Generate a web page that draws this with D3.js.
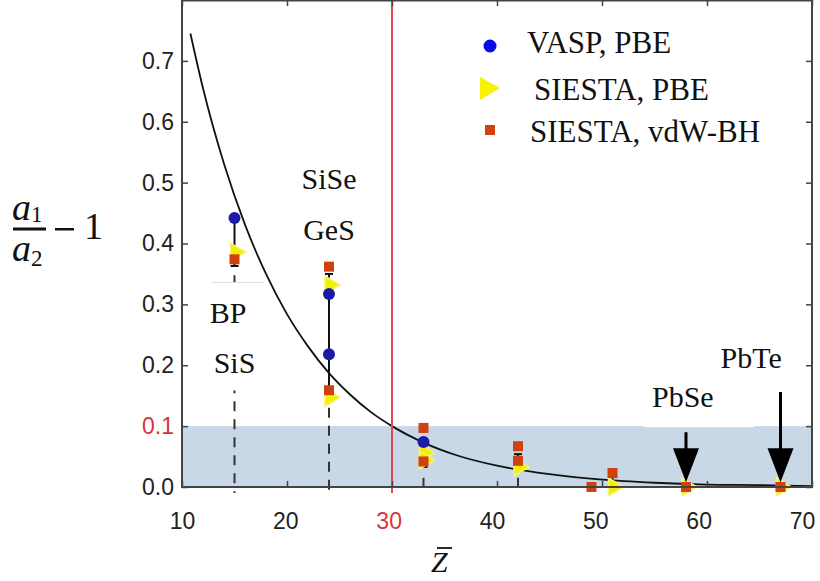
<!DOCTYPE html>
<html>
<head>
<meta charset="utf-8">
<script src="https://cdn.jsdelivr.net/npm/d3@7"></script>
<style>
  body { margin: 0; background: #fff; }
  svg { display: block; }
</style>
</head>
<body>
<div id="chart"></div>
<script>
// values
var vaspZ = [15, 24, 24, 33];
var vaspV = [0.442, 0.317, 0.218, 0.074];

var pbeZ = [15, 24, 24, 33, 33, 42, 51, 58, 67];
var pbeV = [0.386, 0.332, 0.147, 0.056, 0.044, 0.033, 0.0, 0.0, 0.0];

var vdwZ = [15, 24, 24, 33, 33, 42, 42, 49, 51, 58, 67];
var vdwV = [0.374, 0.362, 0.159, 0.097, 0.042, 0.067, 0.043, 0.0, 0.023, 0.0, 0.0];

// error bars
var errZ  = [15, 24, 33, 42, 51];
var errHi = [0.442, 0.350, 0.074, 0.054, 0.023];
var errLo = [0.363, 0.159, 0.033, 0.028, 0.004];

// dashed guides
var dashZ   = [15, 24, 33, 42];
var dashTop = [0.348, 0.130, 0.015, 0.015];

// fitted curve
var fitZ = [10.8, 12, 14, 16, 18, 20, 22, 24, 26, 28, 30, 33, 36, 40, 45, 50, 55, 60, 65, 70];
var fitV = [0.745, 0.655, 0.531, 0.431, 0.350, 0.284, 0.231, 0.187, 0.152, 0.123, 0.100,
            0.073, 0.053, 0.035, 0.021, 0.012, 0.007, 0.004, 0.003, 0.0015];

var xTicks = [10, 20, 30, 40, 50, 60, 70];
var yTicks = [0.0, 0.1, 0.2, 0.3, 0.4, 0.5, 0.6, 0.7];

var seriesNames = ["VASP, PBE", "SIESTA, PBE", "SIESTA, vdW-BH"];

var W = 820, H = 581;
var pLeft = 182, pRight = 812, pTop = 0, pBottom = 487;

var svg = d3.select("#chart").append("svg")
    .attr("width", W)
    .attr("height", H);

var x = d3.scaleLinear().domain([10, 70]).range([pLeft, pRight]);
var y = d3.scaleLinear().domain([0, 0.8]).range([pBottom, pTop]);
// the tick numbers in the figure sit on a slightly narrower spacing than the tick marks
var xLab = d3.scaleLinear().domain([10, 70]).range([pLeft, 802]);

var serif = "'Liberation Serif', 'Times New Roman', serif";
var sans = "'Liberation Sans', Arial, sans-serif";

// shaded band below 0.1
svg.append("rect")
    .attr("x", x(10))
    .attr("y", y(0.1))
    .attr("width", x(70) - x(10))
    .attr("height", y(0) - y(0.1))
    .attr("fill", "#c8d8e6");

// fitted curve
var line = d3.line()
    .x(function(d, i) { return x(fitZ[i]); })
    .y(function(d, i) { return y(fitV[i]); })
    .curve(d3.curveMonotoneX);

svg.append("path")
    .datum(fitZ)
    .attr("d", line)
    .attr("fill", "none")
    .attr("stroke", "#111")
    .attr("stroke-width", 1.8);

// red threshold line
svg.append("line")
    .attr("x1", x(30)).attr("x2", x(30))
    .attr("y1", pTop).attr("y2", pBottom + 6)
    .attr("stroke", "#e2474d")
    .attr("stroke-width", 2);

// dashed guides
svg.selectAll(".guide")
    .data(dashZ)
    .enter()
    .append("line")
    .attr("class", "guide")
    .attr("x1", function(d) { return x(d); })
    .attr("x2", function(d) { return x(d); })
    .attr("y1", function(d, i) { return y(dashTop[i]); })
    .attr("y2", pBottom + 6)
    .attr("stroke", "#333")
    .attr("stroke-width", 2)
    .attr("stroke-dasharray", "10,8");

// white boxes behind the labels
svg.append("rect")
    .attr("x", x(12.8)).attr("y", y(0.336))
    .attr("width", 56).attr("height", 108)
    .attr("fill", "#fff");
svg.append("line")
    .attr("x1", x(12.8)).attr("x2", x(12.8) + 52)
    .attr("y1", y(0.336)).attr("y2", y(0.336))
    .attr("stroke", "#ddd").attr("stroke-width", 1);

svg.append("rect")
    .attr("x", x(54.0)).attr("y", y(0.164))
    .attr("width", 110).attr("height", 40)
    .attr("fill", "#fff");

// compound labels
var labels = [
  {t: "SiSe", z: 24, v: 0.490},
  {t: "GeS",  z: 24, v: 0.405},
  {t: "BP",   z: 14.4, v: 0.270},
  {t: "SiS",  z: 15, v: 0.188},
  {t: "PbSe", z: 57.7, v: 0.131},
  {t: "PbTe", z: 64.2, v: 0.195}
];
svg.selectAll(".lbl")
    .data(labels)
    .enter()
    .append("text")
    .attr("class", "lbl")
    .attr("x", function(d) { return x(d.z); })
    .attr("y", function(d) { return y(d.v); })
    .attr("text-anchor", "middle")
    .attr("font-family", serif)
    .attr("font-size", 30)
    .attr("fill", "#111")
    .text(function(d) { return d.t; });

// error bars
var eb = svg.selectAll(".err")
    .data(errZ)
    .enter()
    .append("g")
    .attr("class", "err");
eb.append("line")
    .attr("x1", function(d) { return x(d); })
    .attr("x2", function(d) { return x(d); })
    .attr("y1", function(d, i) { return y(errHi[i]); })
    .attr("y2", function(d, i) { return y(errLo[i]); })
    .attr("stroke", "#111").attr("stroke-width", 2);
eb.append("line")
    .attr("x1", function(d) { return x(d) - 4; })
    .attr("x2", function(d) { return x(d) + 4; })
    .attr("y1", function(d, i) { return y(errHi[i]); })
    .attr("y2", function(d, i) { return y(errHi[i]); })
    .attr("stroke", "#111").attr("stroke-width", 2);
eb.append("line")
    .attr("x1", function(d) { return x(d) - 4; })
    .attr("x2", function(d) { return x(d) + 4; })
    .attr("y1", function(d, i) { return y(errLo[i]); })
    .attr("y2", function(d, i) { return y(errLo[i]); })
    .attr("stroke", "#111").attr("stroke-width", 2);

// markers
var tri = "M-6,-9L9,0L-6,9Z";

svg.selectAll(".pbe")
    .data(pbeZ)
    .enter()
    .append("path")
    .attr("class", "pbe")
    .attr("d", tri)
    .attr("transform", function(d, i) {
        return "translate(" + (x(d) + 2) + "," + y(pbeV[i]) + ")";
    })
    .attr("fill", "#f3ef00")
    .attr("stroke", "#f6f27a")
    .attr("stroke-width", 1.5);

svg.selectAll(".vdw")
    .data(vdwZ)
    .enter()
    .append("rect")
    .attr("class", "vdw")
    .attr("x", function(d) { return x(d) - 5; })
    .attr("y", function(d, i) { return y(vdwV[i]) - 5; })
    .attr("width", 10)
    .attr("height", 10)
    .attr("fill", "#d1410f");

svg.selectAll(".vasp")
    .data(vaspZ)
    .enter()
    .append("circle")
    .attr("class", "vasp")
    .attr("cx", function(d) { return x(d); })
    .attr("cy", function(d, i) { return y(vaspV[i]); })
    .attr("r", 6)
    .attr("fill", "#1b1ba6");

// arrows to PbSe and PbTe
var arrows = [
  {z: 58, from: 0.090, to: 0.008},
  {z: 67, from: 0.156, to: 0.008}
];
arrows.forEach(function(a) {
    var tipY = y(a.to);
    svg.append("line")
        .attr("x1", x(a.z)).attr("x2", x(a.z))
        .attr("y1", y(a.from)).attr("y2", tipY - 20)
        .attr("stroke", "#000").attr("stroke-width", 3);
    svg.append("path")
        .attr("d", "M" + (x(a.z) - 13) + "," + (tipY - 34) +
                   "L" + (x(a.z) + 13) + "," + (tipY - 34) +
                   "L" + x(a.z) + "," + tipY + "Z")
        .attr("fill", "#000");
});

// frame
svg.append("rect")
    .attr("x", pLeft).attr("y", pTop + 0.5)
    .attr("width", pRight - pLeft).attr("height", pBottom - pTop - 0.5)
    .attr("fill", "none")
    .attr("stroke", "#444")
    .attr("stroke-width", 2);

// tick marks pointing inward on all four sides
svg.append("g")
    .attr("transform", "translate(0," + pBottom + ")")
    .call(d3.axisBottom(x).tickValues(xTicks).tickSize(-6).tickFormat(""));
svg.append("g")
    .attr("transform", "translate(0," + pTop + ")")
    .call(d3.axisTop(x).tickValues(xTicks).tickSize(-6).tickFormat(""));
var yAxis = svg.append("g")
    .attr("transform", "translate(" + pLeft + ",0)")
    .call(d3.axisLeft(y).tickValues(yTicks).tickSize(-6).tickPadding(8)
        .tickFormat(d3.format(".1f")));
svg.append("g")
    .attr("transform", "translate(" + pRight + ",0)")
    .call(d3.axisRight(y).tickValues(yTicks).tickSize(-6).tickFormat(""));
// x tick numbers
var xAxis = svg.append("g")
    .attr("transform", "translate(0," + pBottom + ")")
    .call(d3.axisBottom(xLab).tickValues(xTicks).tickSize(0).tickPadding(26)
        .tickFormat(d3.format("d")));
xAxis.selectAll(".tick line").remove();

svg.selectAll(".domain").remove();
svg.selectAll(".tick line").attr("stroke", "#444").attr("stroke-width", 1.5);
svg.selectAll(".tick text")
    .style("font-family", sans)
    .style("font-size", "23px")
    .attr("fill", "#222");
xAxis.selectAll(".tick text")
    .attr("fill", function(d) { return d === 30 ? "#d9343c" : "#222"; });
yAxis.selectAll(".tick text")
    .attr("fill", function(d) { return d === 0.1 ? "#d9343c" : "#222"; });

// legend
var lg = svg.append("g");
lg.append("circle").attr("cx", 490).attr("cy", 46).attr("r", 6.5).attr("fill", "#0a0ae6");
lg.append("path").attr("d", "M480,77L500,88L480,100Z").attr("fill", "#f6f200");
lg.append("rect").attr("x", 485).attr("y", 125).attr("width", 10).attr("height", 10).attr("fill", "#d1410f");
lg.selectAll("text")
    .data(seriesNames)
    .enter()
    .append("text")
    .attr("x", function(d, i) { return [527, 534, 530][i]; })
    .attr("y", function(d, i) { return [53, 100, 142][i]; })
    .attr("font-family", serif)
    .attr("font-size", 31)
    .attr("fill", "#111")
    .text(function(d) { return d; });

// y label: a1/a2 - 1
var yl = svg.append("g").attr("font-family", serif).attr("fill", "#111");
var num = yl.append("text").attr("x", 12).attr("y", 220)
    .attr("font-size", 38).attr("font-style", "italic");
num.append("tspan").text("a");
num.append("tspan").attr("font-size", 23).attr("font-style", "normal").attr("dy", 2).text("1");
var den = yl.append("text").attr("x", 12).attr("y", 261)
    .attr("font-size", 38).attr("font-style", "italic");
den.append("tspan").text("a");
den.append("tspan").attr("font-size", 23).attr("font-style", "normal").attr("dy", 5).text("2");
yl.append("rect").attr("x", 13).attr("y", 227.5).attr("width", 33).attr("height", 3).attr("fill", "#111");
yl.append("rect").attr("x", 55).attr("y", 228).attr("width", 19).attr("height", 2.5).attr("fill", "#111");
yl.append("text").attr("x", 84).attr("y", 239).attr("font-size", 38).text("1");

// x label: Z bar
svg.append("text")
    .attr("x", 431).attr("y", 572)
    .attr("font-family", serif)
    .attr("font-size", 30)
    .attr("font-style", "italic")
    .attr("fill", "#111")
    .text("Z");
svg.append("line")
    .attr("x1", 437).attr("x2", 452)
    .attr("y1", 548).attr("y2", 548)
    .attr("stroke", "#111").attr("stroke-width", 1.8);
</script>
</body>
</html>
